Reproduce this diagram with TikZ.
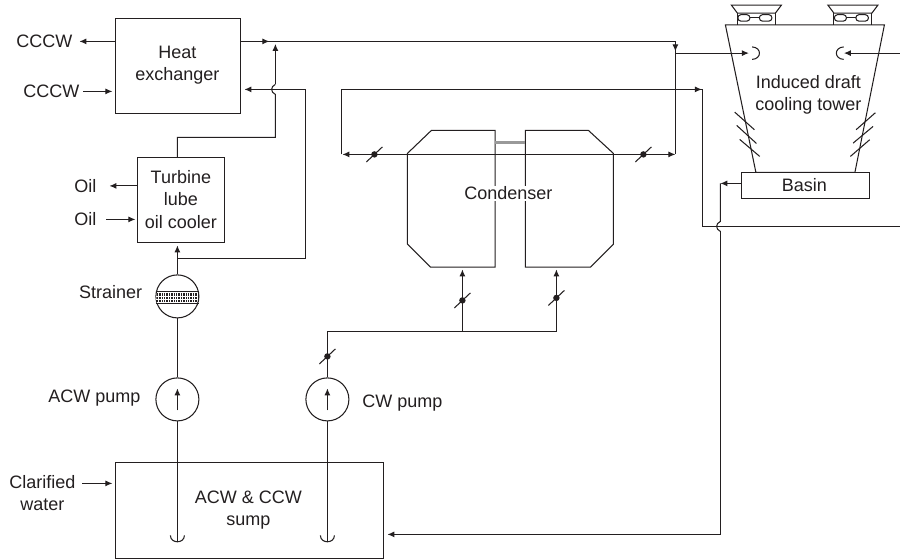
\documentclass[tikz,border=0pt]{standalone}
\usepackage{fontspec}
\setmainfont{Liberation Sans}
\usetikzlibrary{arrows.meta}
\definecolor{ink}{HTML}{231F20}
\tikzset{
 pipe/.style={draw=ink,line width=1.05pt},
 flow/.style={pipe,-{Latex[length=7pt,width=6pt]}},
 lab/.style={text=ink,font=\fontsize{18}{22.3}\selectfont,align=center,inner sep=0pt},
 boxn/.style={pipe,rectangle,inner sep=0pt},
 ringn/.style={pipe,circle,inner sep=0pt,minimum size=43pt}
}
\newcommand{\valve}[2]{\fill[ink] (#1,#2) circle (3.2pt); \draw[pipe] (#1-8,#2+7.5) -- (#1+8,#2-7.5);}
\begin{document}
\begin{tikzpicture}[x=1pt,y=-1pt]
\useasboundingbox[fill=white] (0,0) rectangle (900,558);
\begin{scope}[xshift=0.4pt,yshift=-0.4pt]
% boxes
\node[boxn,minimum width=125pt,minimum height=95pt,anchor=north west] (hx) at (115,18) {};
\node[boxn,minimum width=87pt,minimum height=85pt,anchor=north west] (tl) at (137,157) {};
\node[boxn,minimum width=268pt,minimum height=95.5pt,anchor=north west] (sp) at (115,462) {};
\node[boxn,minimum width=127.5pt,minimum height=26pt,anchor=north west] (bs) at (740.7,172) {};
\node[ringn] (st) at (177,296) {};
\node[ringn] (acw) at (177,399) {};
\node[ringn] (cw) at (327,399) {};
% labels
\node[lab] (hxt) at (177,65) {Heat\\exchanger};
\node[lab] (c1) at (44,41) {CCCW};
\node[lab] (c2) at (51,91) {CCCW};
\node[lab] (tlt) at (180.5,199) {Turbine\\lube\\oil cooler};
\node[lab] (o1) at (85,185.5) {Oil};
\node[lab] (o2) at (85,219) {Oil};
\node[lab,anchor=east] (stt) at (142,292) {Strainer};
\node[lab] (acwt) at (94,398) {ACW pump};
\node[lab] (cwt) at (402,403) {CW pump};
\node[lab] (spt) at (248,510) {ACW \& CCW\\sump};
\node[lab] (cl) at (42,493) {Clarified\\water};
\node[lab] (twt) at (808,94.5) {Induced draft\\cooling tower};
\node[lab] (bst) at (804,184.5) {Basin};
% junctions
\coordinate (hxOut) at (hx.east|-c1);
\coordinate (jTop) at (675,41);
\coordinate (jTopB) at (675,154);
\coordinate (jSpray) at (675,52.7);
\coordinate (sprayL) at (748.5,52.7);
\coordinate (sprayR) at (843.5,52.7);
\coordinate (rightIn) at (900,52.7);
\coordinate (lk) at (177,258);
\coordinate (rtn) at (305,258);
\coordinate (rtnT) at (305,89);
\coordinate (up) at (177,137);
\coordinate (upB) at (275,137);
\coordinate (cwH) at (327,331.5);
\coordinate (cwA) at (462,331.5);
\coordinate (cwB) at (556,331.5);
\coordinate (loopL) at (341,154);
\coordinate (loopLT) at (341,89);
\coordinate (loopRT) at (702,89);
\coordinate (loopRB) at (702,226);
\coordinate (rightOut) at (900,226);
\coordinate (bsT) at (720,183);
\coordinate (bsB) at (720,534);
% left side arrows
\draw[flow] (hx.west|-c1) -- (79,41);
\draw[flow] (83,91) -- (112,91);
\draw[flow] (tl.west|-o1) -- (109,185.5);
\draw[flow] (106,219) -- (135,219);
\draw[flow] (82,483) -- (112,483);
% strainer
\fill[white] (157,291) rectangle (197,303);
\draw[pipe] (155.5,291) -- (198.5,291) (155.5,303) -- (198.5,303);
\foreach \x in {157,159.4,...,198}{\draw[ink,line width=1.4pt] (\x,292.5) -- (\x,301.5);}
\draw[white,line width=0.6pt] (156,295.5) -- (198,295.5) (156,298.5) -- (198,298.5);
\draw[pipe] (st.south) -- (acw.north);
\draw[flow] (st.north) -- (177,245);
% pumps
\draw[flow] (177,410) -- (177,388);
\draw[flow] (327,410) -- (327,388);
\draw[pipe] (acw.south) -- (177,541);
\draw[pipe] (cw.south) -- (327,541);
\draw[pipe] (170,535) .. controls (170,543.5) and (184,543.5) .. (184,535);
\draw[pipe] (320,535) .. controls (320,543.5) and (334,543.5) .. (334,535);
% heat exchanger pipes
\draw[pipe] (tl.north-|up) -- (up) -- (upB) -- (275,94) .. controls (270,92) and (270,86) .. (275,84);
\draw[flow] (275,84) -- (275,43.5);
\draw[pipe] (lk) -- (rtn) -- (rtnT) -- (250,89);
\draw[flow] (250,89) -- (244,89);
\draw[pipe] (hxOut) -- (jTop) -- (jTopB);
\draw[flow] (262,41) -- (269,41);
\draw[flow] (675,44) -- (675,51);
% condenser
\draw[pipe] (494.7,130) -- (431,130) -- (407,153) -- (407,243.7) -- (430,266.7) -- (494.7,266.7) -- cycle;
\draw[pipe] (525,130) -- (588,130) -- (613,153) -- (613,243.7) -- (590,266.7) -- (525,266.7) -- cycle;
\draw[draw=gray!80,line width=2.8pt] (495,141.7) -- (525,141.7);
\node[lab,fill=white,inner xsep=1pt,inner ysep=1pt] (cd) at (508,193) {Condenser};
\draw[flow] (508,154) -- (342,154);
\draw[flow] (508,154) -- (jTopB);
\draw[pipe] (loopL) -- (loopLT) -- (loopRT) -- (loopRB) -- (rightOut);
\draw[flow] (694,89) -- (701.5,89);
\valve{374}{154}
\valve{643}{154}
\valve{462}{300}
\valve{556}{297.5}
\valve{327}{356}
\draw[pipe] (cw.north) -- (cwH) -- (cwB);
\draw[flow] (cwA) -- (462,269);
\draw[flow] (cwB) -- (556,269);
% tower
\draw[pipe] (725,24.5) -- (884,24.5) -- (854.5,172) -- (755.5,172) -- cycle;
\draw[pipe] (734.3,111.7) -- (754,129.3) (736.3,125) -- (756,143) (739.3,139) -- (759.3,156);
\draw[pipe] (875,112.3) -- (855.7,129.3) (872.7,126) -- (852.7,142.7) (869.3,139.3) -- (850,156);
\draw[flow] (jSpray) -- (sprayL);
\draw[flow] (rightIn) -- (sprayR);
\draw[pipe] (751.7,46.5) .. controls (761.5,47) and (761.5,58.5) .. (751.7,59);
\draw[pipe] (843.3,46.5) .. controls (833.5,47) and (833.5,58.5) .. (843.3,59);
\foreach \fx in {756,852.5}{
 \draw[pipe] (\fx-25,4.7) -- (\fx+25,4.7) -- (\fx+19,12.7) -- (\fx-19,12.7) -- cycle;
 \draw[pipe] (\fx-19,12.7) -- (\fx-19,24.5) (\fx+19,12.7) -- (\fx+19,24.5);
 \draw[pipe,rounded corners=3pt] (\fx-18.5,14.3) rectangle (\fx-6.5,20.7);
 \draw[pipe,rounded corners=3pt] (\fx+3,14.3) rectangle (\fx+15.5,20.7);
 \draw[pipe] (\fx-6.5,17.5) -- (\fx+3,17.5);
}
% basin return
\draw[flow] (bs.west|-bsT) -- (bsT);
\draw[pipe] (bsT) -- (720,221) .. controls (715,223) and (715,229) .. (720,231);
\draw[pipe] (720,231) -- (bsB) -- (394,534);
\draw[flow] (394,534) -- (387,534);
\end{scope}
\end{tikzpicture}
\end{document}
